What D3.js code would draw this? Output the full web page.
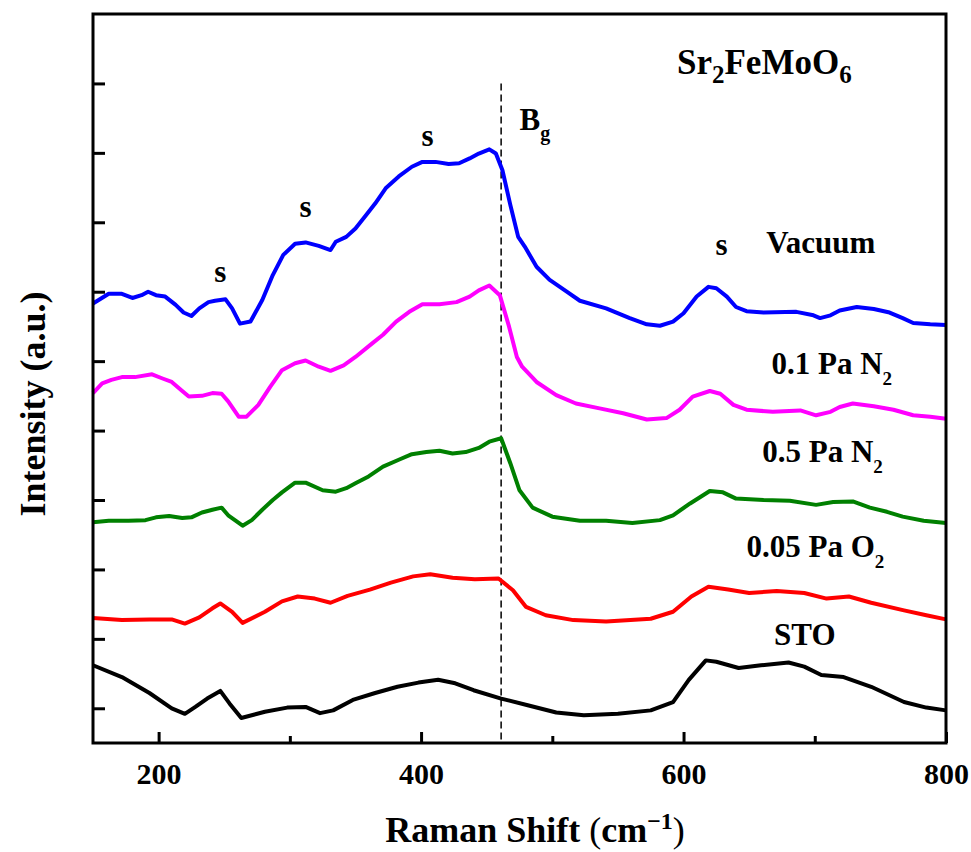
<!DOCTYPE html>
<html>
<head>
<meta charset="utf-8">
<script src="https://cdn.jsdelivr.net/npm/d3@7"></script>
<style>
  body { margin: 0; background: #fff; }
  text { font-family: "Liberation Serif", "Times New Roman", serif; font-weight: bold; fill: #000; }
</style>
</head>
<body>
<div class="container"></div>
<script>
const width = 971;
const height = 852;
const margin = { top: 14, right: 25, bottom: 109, left: 93 };

// Raman shift (cm-1) vs intensity (a.u., offset per spectrum)
const vacuum = [[150,6.83],[162,6.97],[172,6.97],[180,6.91],[187,6.95],[192,7.00],[198,6.95],[205,6.93],[213,6.81],[219,6.70],[225,6.65],[231,6.76],[238,6.85],[243,6.87],[251,6.89],[256,6.76],[262,6.54],[270,6.57],[279,6.88],[287,7.24],[295,7.53],[304,7.69],[312,7.71],[322,7.66],[331,7.60],[335,7.72],[343,7.79],[350,7.91],[358,8.10],[365,8.27],[373,8.49],[383,8.66],[393,8.80],[401,8.87],[411,8.87],[421,8.84],[429,8.85],[437,8.92],[444,8.99],[452,9.05],[457,8.99],[462,8.75],[468,8.25],[474,7.79],[479,7.65],[488,7.36],[498,7.17],[511,7.00],[521,6.87],[541,6.76],[559,6.62],[572,6.53],[582,6.51],[592,6.57],[600,6.69],[610,6.93],[619,7.07],[625,7.05],[633,6.93],[640,6.78],[648,6.72],[661,6.70],[686,6.71],[699,6.66],[704,6.62],[712,6.66],[719,6.73],[732,6.78],[745,6.75],[757,6.70],[767,6.62],[775,6.55],[788,6.53],[800,6.52]];

const n2Low = [[150,5.54],[157,5.68],[164,5.73],[172,5.77],[182,5.77],[195,5.81],[203,5.75],[210,5.70],[218,5.57],[223,5.49],[233,5.50],[241,5.54],[248,5.53],[253,5.42],[261,5.20],[267,5.20],[276,5.37],[285,5.63],[294,5.87],[304,5.97],[312,6.01],[322,5.92],[331,5.86],[341,5.94],[350,6.06],[363,6.26],[371,6.38],[381,6.57],[391,6.71],[401,6.82],[414,6.82],[427,6.85],[437,6.93],[444,7.02],[452,7.09],[460,6.95],[467,6.50],[473,6.06],[477,5.92],[488,5.70],[503,5.51],[518,5.39],[536,5.32],[554,5.25],[572,5.16],[587,5.18],[597,5.30],[607,5.49],[620,5.57],[628,5.53],[638,5.37],[648,5.30],[668,5.27],[689,5.29],[701,5.22],[712,5.27],[719,5.34],[729,5.39],[745,5.35],[760,5.30],[775,5.22],[788,5.20],[800,5.17]];

const n2High = [[150,3.68],[162,3.70],[177,3.70],[190,3.71],[198,3.75],[208,3.77],[218,3.74],[225,3.75],[233,3.82],[241,3.86],[248,3.89],[253,3.78],[264,3.63],[271,3.71],[279,3.86],[287,4.00],[294,4.11],[304,4.25],[312,4.25],[325,4.14],[335,4.12],[343,4.17],[350,4.24],[360,4.34],[371,4.48],[383,4.58],[393,4.66],[404,4.69],[414,4.71],[424,4.67],[434,4.69],[444,4.75],[452,4.84],[461,4.89],[468,4.53],[475,4.14],[485,3.89],[500,3.76],[521,3.70],[541,3.70],[561,3.67],[582,3.71],[592,3.78],[605,3.95],[620,4.13],[630,4.11],[640,4.02],[661,4.00],[681,3.99],[701,3.93],[714,3.97],[729,3.98],[742,3.89],[755,3.83],[767,3.76],[783,3.70],[800,3.67]];

const o2 = [[150,2.30],[172,2.27],[193,2.28],[210,2.28],[220,2.22],[231,2.31],[241,2.44],[247,2.51],[256,2.39],[264,2.23],[281,2.39],[294,2.54],[306,2.61],[319,2.58],[331,2.52],[344,2.62],[361,2.71],[377,2.81],[394,2.90],[407,2.93],[424,2.88],[441,2.86],[459,2.87],[470,2.70],[480,2.46],[495,2.34],[516,2.27],[541,2.25],[575,2.29],[592,2.39],[606,2.61],[619,2.75],[634,2.71],[650,2.66],[671,2.69],[692,2.66],[709,2.58],[726,2.61],[743,2.52],[768,2.41],[785,2.34],[800,2.28]];

const sto = [[150,1.62],[172,1.45],[193,1.22],[210,1.00],[220,0.92],[228,1.02],[237,1.14],[247,1.25],[254,1.07],[263,0.86],[281,0.95],[298,1.01],[312,1.02],[323,0.93],[333,0.97],[348,1.12],[365,1.22],[382,1.31],[398,1.37],[413,1.41],[426,1.36],[440,1.26],[461,1.14],[482,1.04],[503,0.94],[524,0.90],[550,0.92],[575,0.97],[592,1.09],[604,1.41],[617,1.69],[625,1.67],[642,1.58],[659,1.62],[680,1.66],[692,1.60],[705,1.48],[722,1.45],[743,1.31],[768,1.09],[785,1.01],[800,0.97]];

const series = [
  { name: 'Vacuum', data: vacuum, color: '#0000ff' },
  { name: '0.1 Pa N2', data: n2Low, color: '#ff00ff' },
  { name: '0.5 Pa N2', data: n2High, color: '#008000' },
  { name: '0.05 Pa O2', data: o2, color: '#ff0000' },
  { name: 'STO', data: sto, color: '#000000' }
];

const xMajorTicks = [200, 400, 600, 800];
const xMinorTicks = [300, 500, 700];
const yTicks = [1, 2, 3, 4, 5, 6, 7, 8, 9, 10];
const bgPosition = 461;

// peak marks and curve labels: [x, y, main, sub]
const peakMarks = [[247, 7.14], [312, 8.08], [405, 9.10], [629, 7.53]];
const curveLabels = [
  [663, 7.56, 'Vacuum', ''],
  [667, 5.81, '0.1 Pa N', '2'],
  [660, 4.55, '0.5 Pa N', '2'],
  [648, 3.18, '0.05 Pa O', '2'],
  [669, 1.91, 'STO', '']
];

const svg = d3.select('.container')
  .append('svg')
  .attr('width', width)
  .attr('height', height);

const x = d3.scaleLinear().domain([150, 800]).range([margin.left, width - margin.right]);
const y = d3.scaleLinear().domain([0.5, 11]).range([height - margin.bottom, margin.top]);

const line = d3.line().x(d => x(d[0])).y(d => y(d[1]));

// dashed Bg marker
svg.append('line')
  .attr('x1', x(bgPosition)).attr('x2', x(bgPosition))
  .attr('y1', y(10)).attr('y2', y(0.5))
  .attr('stroke', '#000')
  .attr('stroke-width', 1.5)
  .attr('stroke-dasharray', '7,4');

svg.append('g')
  .selectAll('path')
  .data(series)
  .enter()
  .append('path')
  .attr('d', d => line(d.data))
  .attr('fill', 'none')
  .attr('stroke', d => d.color)
  .attr('stroke-width', 4)
  .attr('stroke-linejoin', 'round');

// axes
const xAxis = svg.append('g')
  .attr('transform', `translate(0,${height - margin.bottom})`)
  .call(d3.axisBottom(x).tickValues(xMajorTicks).tickSizeInner(-11).tickSizeOuter(0).tickPadding(20).tickFormat(d3.format('d')));
xAxis.selectAll('text').attr('font-size', 30).style('font-family', '"Liberation Serif", serif').style('font-weight', 'bold').attr('dy', '0.71em');

svg.append('g')
  .attr('transform', `translate(0,${height - margin.bottom})`)
  .call(d3.axisBottom(x).tickValues(xMinorTicks).tickSizeInner(-7).tickSizeOuter(0).tickFormat(''));

svg.append('g')
  .attr('transform', `translate(${margin.left},0)`)
  .call(d3.axisLeft(y).tickValues(yTicks).tickSizeInner(-12).tickSizeOuter(0).tickFormat(''));

svg.selectAll('.domain').remove();
svg.selectAll('.tick line').attr('stroke', '#000').attr('stroke-width', 3);

svg.append('rect')
  .attr('x', margin.left)
  .attr('y', margin.top)
  .attr('width', width - margin.left - margin.right)
  .attr('height', height - margin.top - margin.bottom)
  .attr('fill', 'none')
  .attr('stroke', '#000')
  .attr('stroke-width', 3);

// annotations
svg.append('g')
  .selectAll('text')
  .data(peakMarks)
  .enter()
  .append('text')
  .attr('x', d => x(d[0]))
  .attr('y', d => y(d[1]))
  .attr('text-anchor', 'middle')
  .attr('font-size', 31)
  .text('s');

const bg = svg.append('text')
  .attr('x', x(475))
  .attr('y', y(9.33))
  .attr('font-size', 31);
bg.append('tspan').text('B');
bg.append('tspan').attr('dy', 10).attr('font-size', 20).text('g');

const labels = svg.append('g')
  .selectAll('text')
  .data(curveLabels)
  .enter()
  .append('text')
  .attr('x', d => x(d[0]))
  .attr('y', d => y(d[1]))
  .attr('font-size', 31);
labels.append('tspan').text(d => d[2]);
labels.append('tspan').attr('dy', 11).attr('font-size', 19).text(d => d[3]);

const title = svg.append('text')
  .attr('x', x(595))
  .attr('y', y(10.14))
  .attr('font-size', 35);
title.append('tspan').text('Sr');
title.append('tspan').attr('dy', 9).attr('font-size', 25).text('2');
title.append('tspan').attr('dy', -9).text('FeMoO');
title.append('tspan').attr('dy', 9).attr('font-size', 25).text('6');

// axis titles
const xTitle = svg.append('text')
  .attr('x', 535)
  .attr('y', 842)
  .attr('text-anchor', 'middle')
  .attr('font-size', 36);
xTitle.append('tspan').text('Raman Shift ');
xTitle.append('tspan').style('font-weight', 'normal').text('(');
xTitle.append('tspan').text('cm');
xTitle.append('tspan').attr('dy', -13).attr('font-size', 24).text('\u22121');
xTitle.append('tspan').attr('dy', 13).style('font-weight', 'normal').text(')');

svg.append('text')
  .attr('transform', 'translate(45,404) rotate(-90)')
  .attr('text-anchor', 'middle')
  .attr('font-size', 36)
  .text('Intensity (a.u.)');
</script>
</body>
</html>
